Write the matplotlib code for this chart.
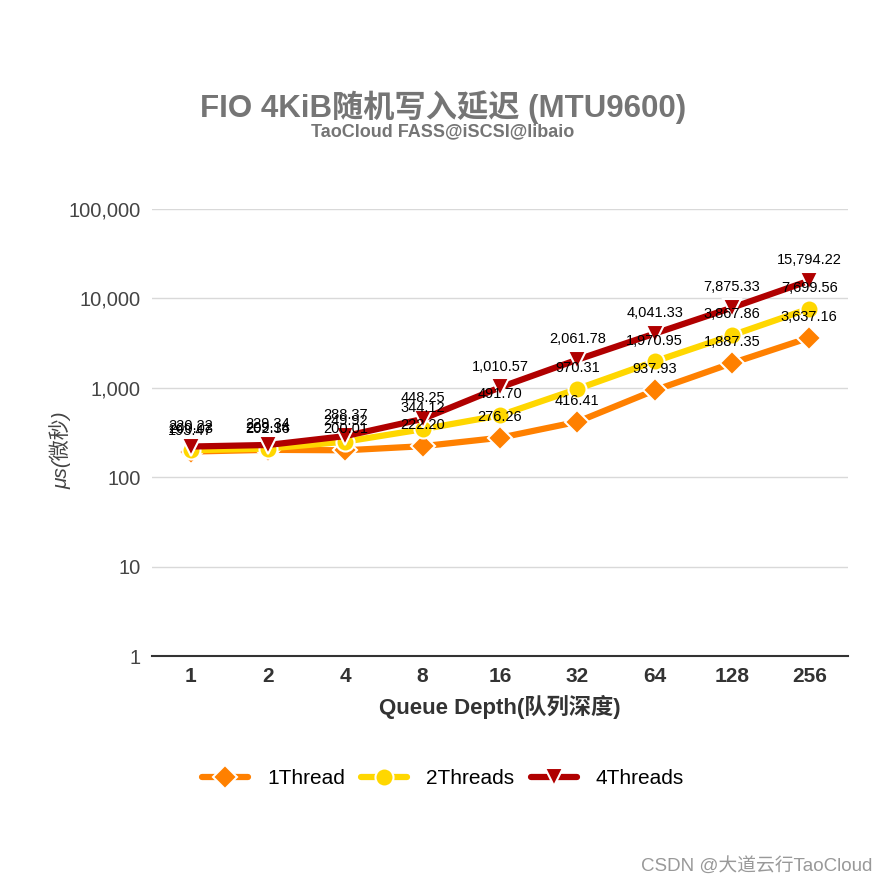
import matplotlib
matplotlib.use("Agg")
import matplotlib.pyplot as plt
from matplotlib.ticker import FixedLocator, FuncFormatter, NullLocator

plt.rcParams['font.family'] = ['Liberation Sans', 'Noto Sans CJK SC', 'DejaVu Sans']

categories = ["1", "2", "4", "8", "16", "32", "64", "128", "256"]
series_names = ["1Thread", "2Threads", "4Threads"]
t1 = [193.47, 202.36, 200.01, 222.20, 276.26, 416.41, 937.93, 1887.35, 3637.16]
t2 = [200.03, 209.14, 249.92, 344.12, 491.70, 970.31, 1970.95, 3867.86, 7699.56]
t4 = [220.22, 229.34, 288.37, 448.25, 1010.57, 2061.78, 4041.33, 7875.33, 15794.22]
yticks = [1, 10, 100, 1000, 10000, 100000]

colors = ["#FF8000", "#FFD700", "#B00000"]
markers = ["D", "o", "v"]
msizes = [12, 13, 13]

fig = plt.figure(figsize=(8.86, 8.86), dpi=100)
ax = fig.add_axes([152/886, 1-656/886, 696/886, (656-209)/886])
ax.set_yscale('log')
ax.set_ylim(1, 100000)
ax.set_xlim(-0.5, len(categories)-0.5)

x = list(range(len(categories)))
for vals, c, m, ms, name in zip([t1, t2, t4], colors, markers, msizes, series_names):
    ax.plot(x, vals, color=c, lw=4.5, marker=m, ms=ms, markeredgecolor='white',
            markeredgewidth=1.5, label=name, solid_capstyle='round', zorder=3)
    for xi, v in zip(x, vals):
        ax.annotate(f"{v:,.2f}", (xi, v), xytext=(0, 10), textcoords='offset points',
                    ha='center', va='bottom', fontsize=10.5, color='black', zorder=5)

ax.yaxis.set_major_locator(FixedLocator(yticks))
ax.yaxis.set_minor_locator(NullLocator())
ax.yaxis.set_major_formatter(FuncFormatter(lambda v, p: f"{int(round(v)):,}"))
ax.grid(axis='y', color='#D9D9D9', lw=1)
ax.set_axisbelow(True)
for s in ['top', 'right', 'left']:
    ax.spines[s].set_visible(False)
ax.spines['bottom'].set_color('#333333')
ax.spines['bottom'].set_linewidth(1.5)
ax.tick_params(axis='y', length=0, labelsize=14.5, labelcolor='#444444', pad=8)
ax.tick_params(axis='x', length=0, labelsize=15, labelcolor='#333333', pad=8)
ax.set_xticks(x)
ax.set_xticklabels(categories, fontweight='bold')

ax.set_xlabel("Queue Depth(队列深度)", fontsize=16, fontweight='bold', color='#333333', labelpad=6)
fig.text(60/886, 1-450/886, "μs(微秒)", rotation=90, ha='center', va='center',
         fontsize=15, style='italic', color='#444444')

fig.text(0.5, 1-107/886, "FIO 4KiB随机写入延迟 (MTU9600)", ha='center', va='center',
         fontsize=22.5, fontweight='bold', color='#757575')
fig.text(0.5, 1-132/886, "TaoCloud FASS@iSCSI@libaio", ha='center', va='center',
         fontsize=13, fontweight='bold', color='#757575')

fig.legend(loc='center', bbox_to_anchor=(443/886, 1-779/886), ncol=3, frameon=False,
           fontsize=15, handlelength=2.2, columnspacing=0.8, handletextpad=0.9)

fig.text(872/886, 1-866/886, "CSDN @大道云行TaoCloud", ha='right', va='center',
         fontsize=13.5, color='#999999')

fig.savefig("out.png", dpi=100)
